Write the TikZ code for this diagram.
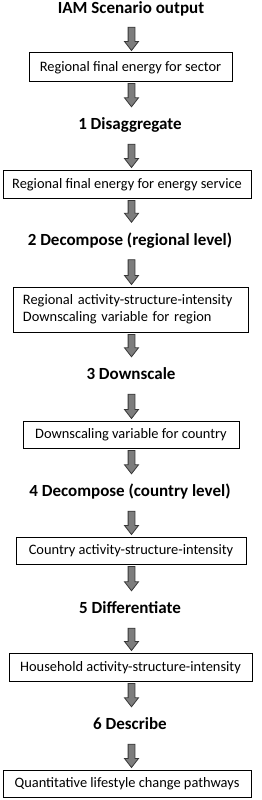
\documentclass[tikz,border=0pt]{standalone}
\usepackage{fontspec}
\setmainfont{Carlito}
\usetikzlibrary{calc}
\definecolor{arrfill}{RGB}{125,125,125}
\definecolor{arrline}{RGB}{55,55,55}
\tikzset{
  title/.style={font=\fontsize{17}{19}\selectfont\bfseries, inner sep=0pt,
    text height=11pt, text depth=3pt, minimum height=33pt},
  box/.style={draw=black, line width=1pt, font=\fontsize{14.4}{17}\selectfont,
    inner sep=0pt, text height=10.5pt, text depth=2.5pt},
  blk/.style={fill=arrfill, draw=arrline, line width=0.8pt, line join=miter},
}
\newcommand\blk[2]{%
  \draw[blk] let \p1=([yshift=-2pt]#1.south -| axis), \p2=([yshift=2pt]#2.north -| axis) in
    (\x1-3.4pt,\y1) -- (\x1+3.4pt,\y1) -- (\x1+3.4pt,\y2+9pt) -- (\x1+7pt,\y2+9pt)
    -- (\x1,\y2) -- (\x1-7pt,\y2+9pt) -- (\x1-3.4pt,\y2+9pt) -- cycle;}
\begin{document}
\begin{tikzpicture}[x=1pt,y=-1pt]
\useasboundingbox (0,0) rectangle (262,800);
\coordinate (axis) at (131.5,0);
\node[title, minimum height=30pt] (t0) at (131,10) {IAM Scenario output};
\node[box, minimum width=203pt, minimum height=28pt] (b1) at (130.5,67) {Regional final energy for sector};
\node[title] (t1) at (130,125.5) {1 Disaggregate};
\node[box, minimum width=248pt, minimum height=28pt] (b2) at (127,184) {Regional final energy for energy service};
\node[title] (t2) at (130,241) {2 Decompose (regional level)};
\node[box, minimum width=235pt, minimum height=45pt, text width=215pt, inner xsep=10pt,
  align=left, text height=, text depth=, font=\fontsize{14.4}{17}\selectfont] (b3) at (130.5,309.5)
  {Regional activity-structure-intensity\\Downscaling variable for region};
\node[title] (t3) at (131,375.5) {3 Downscale};
\node[box, minimum width=216pt, minimum height=27pt] (b4) at (131,434.5) {Downscaling variable for country};
\node[title] (t4) at (130,492.5) {4 Decompose (country level)};
\node[box, minimum width=230pt, minimum height=27pt] (b5) at (131,550.5) {Country activity-structure-intensity};
\node[title] (t5) at (130,609.5) {5 Differentiate};
\node[box, minimum width=243pt, minimum height=28pt] (b6) at (130.5,667) {Household activity-structure-intensity};
\node[title] (t6) at (130,725.5) {6 Describe};
\node[box, minimum width=248pt, minimum height=27pt] (b7) at (127,783.5) {Quantitative lifestyle change pathways};
\blk{t0}{b1}
\blk{b1}{t1}
\blk{t1}{b2}
\blk{b2}{t2}
\blk{t2}{b3}
\blk{b3}{t3}
\blk{t3}{b4}
\blk{b4}{t4}
\blk{t4}{b5}
\blk{b5}{t5}
\blk{t5}{b6}
\blk{b6}{t6}
\blk{t6}{b7}
\end{tikzpicture}
\end{document}
